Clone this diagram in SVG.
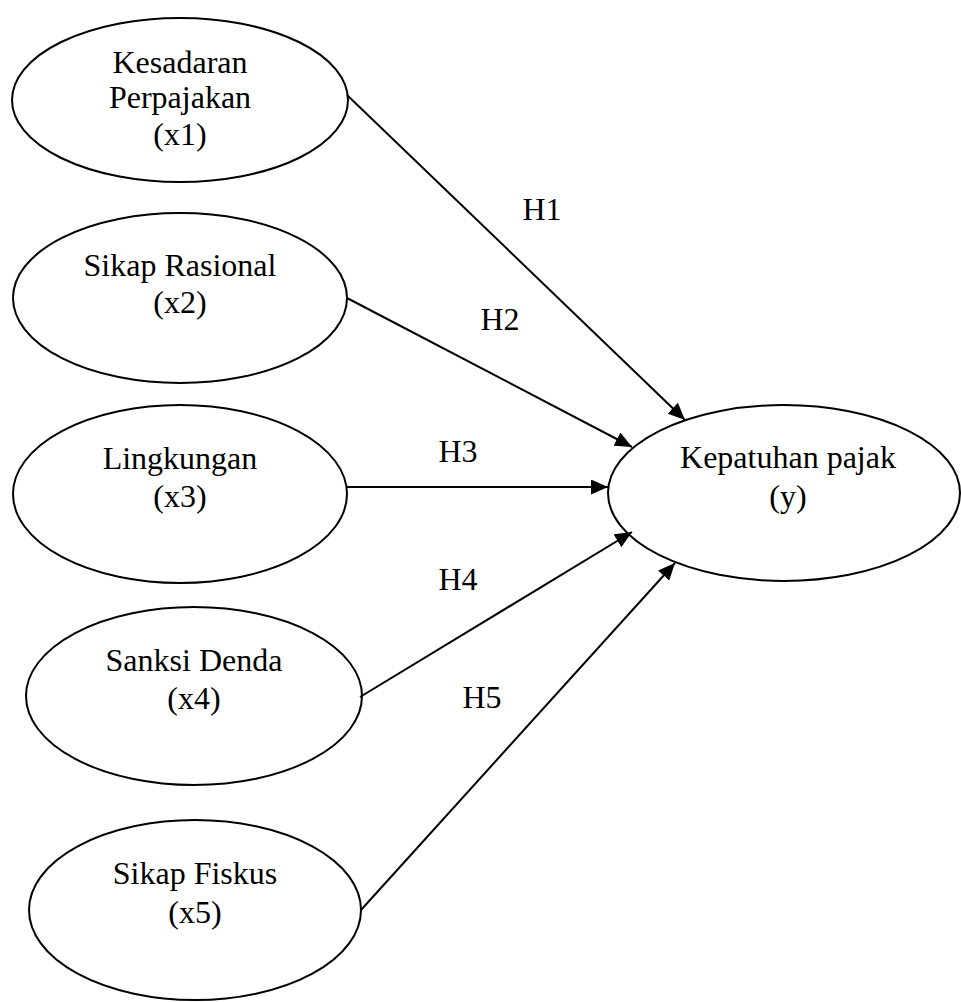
<svg xmlns="http://www.w3.org/2000/svg" width="961" height="1002" viewBox="0 0 961 1002">
<style>
.n{fill:#fff;stroke:#000;stroke-width:2}
.t{font-family:"Liberation Serif","Times New Roman",serif;font-size:32px;fill:#000;text-anchor:middle}
.c{stroke:#000;stroke-width:2;fill:none;marker-end:url(#ah)}
</style>
<defs>
<marker id="ah" viewBox="0 0 17 15" refX="17" refY="7.5" markerWidth="17" markerHeight="15" markerUnits="userSpaceOnUse" orient="auto">
<path d="M0,0 L17,7.5 L0,15 Z" fill="#000"/>
</marker>
</defs>
<rect width="961" height="1002" fill="#fff"/>
<g id="x1">
<ellipse class="n" cx="180" cy="100" rx="168" ry="82"/>
<text class="t" x="180" y="73">Kesadaran</text>
<text class="t" x="180" y="108">Perpajakan</text>
<text class="t" x="180" y="145">(x1)</text>
</g>
<g id="x2">
<ellipse class="n" cx="180" cy="298" rx="167" ry="85"/>
<text class="t" x="180" y="276">Sikap Rasional</text>
<text class="t" x="180" y="313">(x2)</text>
</g>
<g id="x3">
<ellipse class="n" cx="180" cy="494" rx="167" ry="89"/>
<text class="t" x="180" y="469">Lingkungan</text>
<text class="t" x="180" y="507">(x3)</text>
</g>
<g id="x4">
<ellipse class="n" cx="194" cy="696" rx="168" ry="89"/>
<text class="t" x="194" y="671">Sanksi Denda</text>
<text class="t" x="194" y="709">(x4)</text>
</g>
<g id="x5">
<ellipse class="n" cx="195" cy="910" rx="166" ry="90"/>
<text class="t" x="195" y="884">Sikap Fiskus</text>
<text class="t" x="195" y="923">(x5)</text>
</g>
<g id="y">
<ellipse class="n" cx="784" cy="493" rx="176" ry="88"/>
<text class="t" x="788" y="468">Kepatuhan pajak</text>
<text class="t" x="788" y="507">(y)</text>
</g>
<g id="connectors">
<line class="c" x1="347" y1="95" x2="685" y2="420"/>
<line class="c" x1="347" y1="298" x2="632" y2="447"/>
<line class="c" x1="347" y1="487" x2="608" y2="487"/>
<line class="c" x1="360" y1="697" x2="632" y2="532"/>
<line class="c" x1="361" y1="910" x2="675" y2="563"/>
<text class="t" x="542" y="220">H1</text>
<text class="t" x="500" y="330">H2</text>
<text class="t" x="458" y="462">H3</text>
<text class="t" x="458" y="590">H4</text>
<text class="t" x="482" y="708">H5</text>
</g>
</svg>
